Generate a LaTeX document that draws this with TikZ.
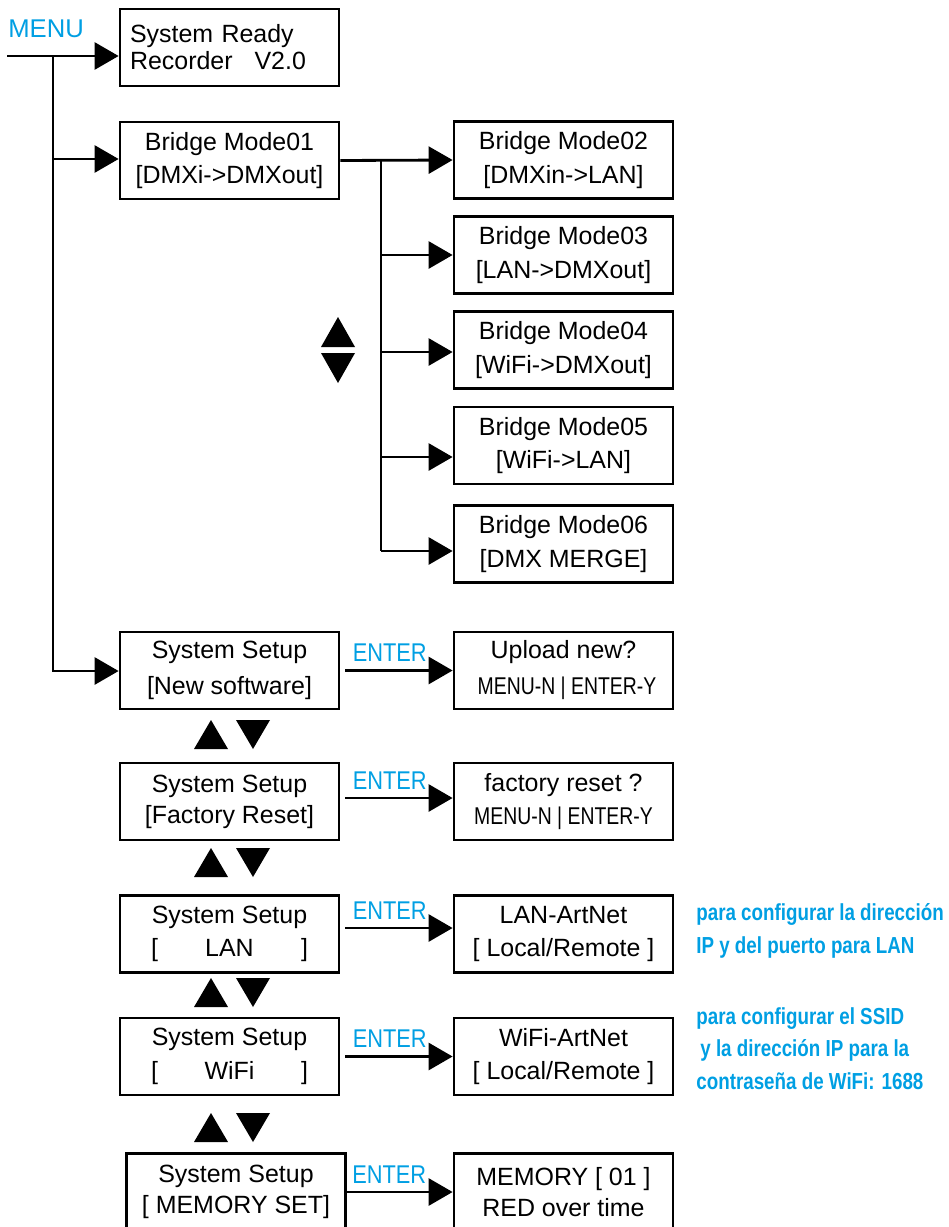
\documentclass[tikz,border=0pt]{standalone}
\usepackage{fontspec}
\setmainfont{Liberation Sans}
\newfontfamily\enterfont[FakeStretch=0.85]{Liberation Sans}
\newfontfamily\yesnofont[FakeStretch=0.8]{Liberation Sans}
\newfontfamily\notefont[FakeStretch=0.81]{Liberation Sans}
\usetikzlibrary{arrows.meta}
\definecolor{menublue}{RGB}{0,159,227}
\tikzset{
  menubox/.style={draw, line width=1.6pt, minimum width=4.38cm, minimum height=1.54cm,
    inner sep=0pt, align=center, font=\fontsize{14.2}{19}\selectfont},
  wire/.style={line width=1.6pt},
  flow/.style={wire, -{Triangle[length=0.48cm,width=0.54cm]}},
  enterlbl/.style={text=menublue, font=\enterfont\fontsize{14.6}{16}\selectfont,
    anchor=base west, inner sep=0pt},
  note/.style={text=menublue, font=\notefont\bfseries\fontsize{13.2}{18.6}\selectfont,
    align=left, anchor=north west, inner sep=0pt},
}
\begin{document}
\begin{tikzpicture}[x=0.02cm, y=-0.02cm]
            \useasboundingbox (0,0) rectangle (948,1227);
            \clip (0,0) rectangle (948,1227);

            % Menu entry
            \node[text=menublue, font=\fontsize{14.6}{16}\selectfont, anchor=base west, inner sep=0pt] (menu) at (8,37) {MENU};
            \coordinate (menuin) at (7,56);
            \coordinate (trunktop) at (53,56);
            \coordinate (trunkend) at (53,671);
            \coordinate (tapbm) at (53,159);

            % Left column of boxes
            \node[menubox, text width=3.98cm, align=left, font=\fontsize{14.2}{15.4}\selectfont] (sysready) at (229.5,47.5) {System Ready\\Recorder\hspace{0.44cm}V2.0};
            \node[menubox] (bm01) at (229.5,160.5) {Bridge Mode01\\{[DMXi->DMXout]}};
            \node[menubox, font=\fontsize{14.2}{20.5}\selectfont] (setupsw) at (229.5,670.5) {System Setup\\{[New software]}};
            \node[menubox, font=\fontsize{14.2}{17.6}\selectfont] (setupfr) at (229.5,801.5) {System Setup\\{[Factory Reset]}};
            \node[menubox] (setuplan) at (229.5,934) {System Setup\\\makebox[3.14cm]{[\hfill LAN\hfill]}};
            \node[menubox] (setupwifi) at (229.5,1056.5) {System Setup\\\makebox[3.14cm]{[\hfill WiFi\hfill]}};
            \node[menubox, font=\fontsize{14.2}{17.6}\selectfont] (setupmem) at (236,1192) {System Setup\\{[ MEMORY SET]}};

            % Bridge modes
            \node[menubox] (bm02) at (563.5,160) {Bridge Mode02\\{[DMXin->LAN]}};
            \node[menubox] (bm03) at (563.5,255) {Bridge Mode03\\{[LAN->DMXout]}};
            \node[menubox] (bm04) at (563.5,350) {Bridge Mode04\\{[WiFi->DMXout]}};
            \node[menubox] (bm05) at (563.5,445.5) {Bridge Mode05\\{[WiFi->LAN]}};
            \node[menubox] (bm06) at (563.5,544) {Bridge Mode06\\{[DMX MERGE]}};

            % Setup results
            \node[menubox, font=\fontsize{14.2}{20.5}\selectfont] (upload) at (563.5,670.5) {Upload new?\\\hspace*{0.14cm}{\yesnofont\fontsize{13.8}{16}\selectfont MENU-N | ENTER-Y}};
            \node[menubox, font=\fontsize{14.2}{18.5}\selectfont] (freset) at (563.5,801.5) {factory reset ?\\{\yesnofont\fontsize{13.8}{16}\selectfont MENU-N | ENTER-Y}};
            \node[menubox] (lanart) at (563.5,934) {LAN-ArtNet\\{[ Local/Remote ]}};
            \node[menubox] (wifiart) at (563.5,1056.5) {WiFi-ArtNet\\{[ Local/Remote ]}};
            \node[menubox, font=\fontsize{14.2}{17.6}\selectfont] (memory) at (563.5,1192) {MEMORY [ 01 ]\\RED over time};

            % Drawing menu trunk
            \draw[flow] (menuin) -- (menuin -| sysready.west);
            \draw[flow] (trunktop) -- (trunkend) -- (trunkend -| setupsw.west);
            \draw[flow] (tapbm) -- (tapbm -| bm01.west);

            % Drawing bridge branch
            \draw[flow] (bm01.east) -- (bm02.west);
            \coordinate (branch) at (381,160);
            \foreach \n/\y in {3/255,4/352,5/457,6/551}{
              \coordinate (tap\n) at (381,\y);
              \draw[flow] (tap\n) -- (tap\n -| bm0\n.west);
            }
            \draw[wire] (branch) -- (tap6);

            % Drawing ENTER arrows
            \draw[flow] ([xshift=0.1cm]setupsw.east) -- (upload.west) node[pos=0, enterlbl, xshift=0.12cm, yshift=0.18cm] {ENTER};
            \draw[flow] ([xshift=0.1cm,yshift=0.07cm]setupfr.east) -- ([yshift=0.07cm]freset.west) node[pos=0, enterlbl, xshift=0.12cm, yshift=0.18cm] {ENTER};
            \draw[flow] ([xshift=0.1cm,yshift=0.12cm]setuplan.east) -- ([yshift=0.12cm]lanart.west) node[pos=0, enterlbl, xshift=0.12cm, yshift=0.18cm] {ENTER};
            \draw[flow] ([xshift=0.1cm]setupwifi.east) -- (wifiart.west) node[pos=0, enterlbl, xshift=0.12cm, yshift=0.18cm] {ENTER};
            \draw[flow] (setupmem.east) -- (memory.west) node[pos=0, enterlbl, xshift=0.08cm, yshift=0.18cm] {ENTER};

            % Marking up/down keys
            \fill (321,347) -- (355,347) -- (338,317) -- cycle;
            \fill (321,353) -- (355,353) -- (338,383) -- cycle;
            \foreach \y in {749,877,1007,1142}{
              \fill (194,\y) -- (228,\y) -- (211,\y-29) -- cycle;
              \fill (236,\y-29) -- (270,\y-29) -- (253,\y) -- cycle;
            }

            % Notes
            \node[note] (lannote) at (696,903) {para configurar la dirección\\IP y del puerto para LAN};
            \node[note] (wifinote) at (696,1007) {para configurar el SSID\\\hspace*{0.08cm}y la dirección IP para la\\contraseña de WiFi: 1688};
\end{tikzpicture}
\end{document}
